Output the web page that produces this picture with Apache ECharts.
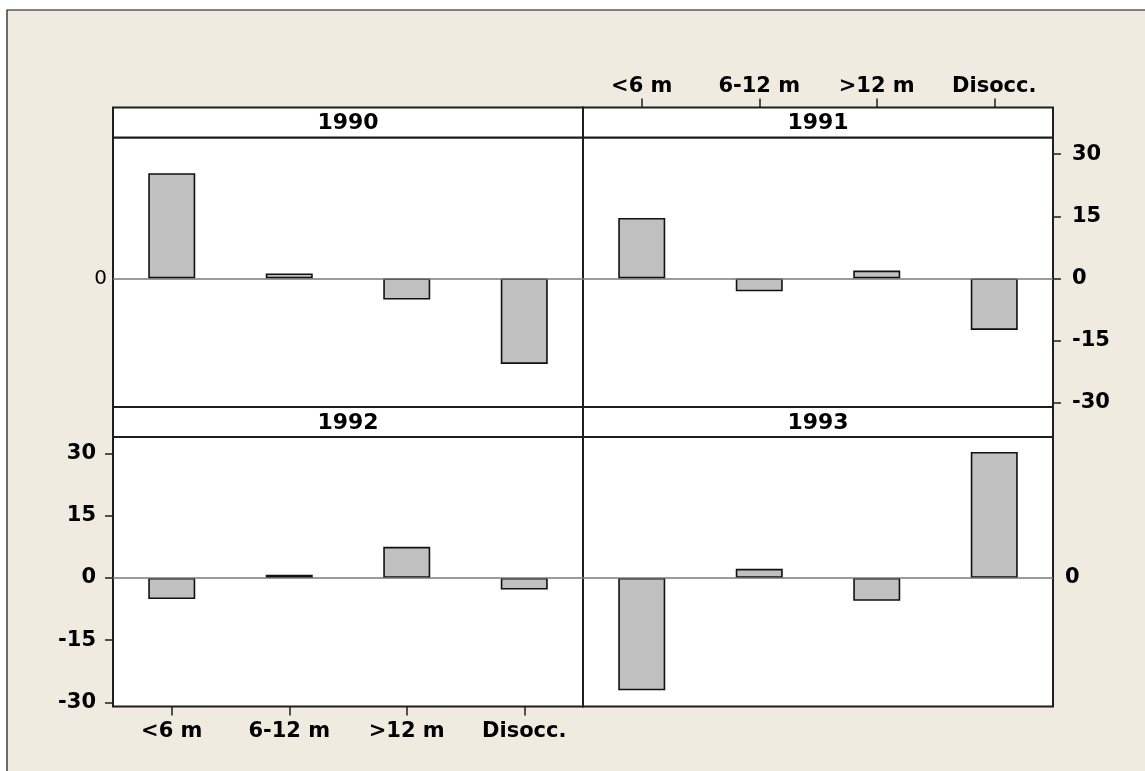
<!DOCTYPE html>
<html><head><meta charset="utf-8">
<script src="https://cdn.jsdelivr.net/npm/echarts@6/dist/echarts.min.js"></script>
<style>html,body{margin:0;padding:0;background:#fff}#c{width:1145px;height:771px}</style>
</head><body><div id="c"></div>
<script>
// ---- data ----
const categories = ['<6 m', '6-12 m', '>12 m', 'Disocc.'];
const years = ['1990', '1991', '1992', '1993'];
const v1990 = [25.4, 1.2, -5.1, -20.6];
const v1991 = [14.6, -3.1, 1.9, -12.4];
const v1992 = [-5.1, 0.8, 7.5, -2.8];
const v1993 = [-27.1, 2.2, -5.5, 30.4];
const yTicks = [-30, -15, 0, 15, 30];
const refTicks = [0];
const yMin = -31, yMax = 34;

// ---- layout ----
const L = 113, M = 583, R = 1053, T = 107.5, STRIP = 30, B = 706.5;
const PW = M - L;
const PH = (B - T - 2 * STRIP) / 2;
const FONT = 'DejaVu Sans';
const values = [v1990, v1991, v1992, v1993];

const panels = years.map((y, i) => {
  const col = i % 2, row = Math.floor(i / 2);
  const left = col ? M : L;
  const stripTop = T + row * (STRIP + PH);
  return { left, stripTop, top: stripTop + STRIP };
});

const grids = panels.map(p => ({
  left: p.left, top: p.top, width: PW, height: PH,
  show: true, backgroundColor: '#fff', borderColor: '#1e1e1e', borderWidth: 2
}));

const labelBold = { color: '#000', fontFamily: FONT, fontWeight: 'bold', fontSize: 21 };

const xAxes = panels.map((p, i) => {
  const shown = (i === 1 || i === 2);
  return {
    type: 'category', gridIndex: i, data: categories, boundaryGap: true,
    position: i === 1 ? 'top' : 'bottom',
    offset: i === 1 ? STRIP : 0,
    axisLine: { show: false, onZero: false },
    axisTick: { show: shown, alignWithLabel: true, length: 9, lineStyle: { color: '#1e1e1e', width: 1.5 } },
    axisLabel: Object.assign({ show: shown, margin: i === 1 ? 10 : 15 }, labelBold),
    splitLine: { show: false }
  };
});

const yAxes = panels.map((p, i) => {
  const base = {
    type: 'value', gridIndex: i, min: yMin, max: yMax,
    position: (i % 2) ? 'right' : 'left',
    axisLine: { show: false, onZero: false }, splitLine: { show: false }
  };
  if (i === 0) {
    base.axisTick = { show: false };
    base.axisLabel = { customValues: refTicks, margin: 6, color: '#000', fontFamily: FONT, fontWeight: 'normal', fontSize: 20 };
  } else if (i === 3) {
    base.axisTick = { show: false };
    base.axisLabel = Object.assign({ customValues: refTicks, margin: 12 }, labelBold);
  } else {
    base.axisTick = { show: true, customValues: yTicks, length: 8, lineStyle: { color: '#1e1e1e', width: 1.5 } };
    base.axisLabel = Object.assign({ customValues: yTicks, margin: i === 1 ? 19 : 17 }, labelBold);
  }
  return base;
});

const series = values.map((vals, i) => ({
  type: 'bar', xAxisIndex: i, yAxisIndex: i, data: vals, barWidth: '40%',
  itemStyle: { color: '#c0c0c0', borderColor: '#111', borderWidth: 1.6 },
  markLine: {
    silent: true, symbol: 'none', label: { show: false },
    lineStyle: { color: '#7a7a7a', width: 1.5, type: 'solid' },
    data: [{ yAxis: 0 }]
  },
  z: 3
}));

const graphics = [{
  type: 'rect', z: -100, shape: { x: 7, y: 10, width: 1300, height: 900 },
  style: { fill: '#EFEBE1', stroke: '#111', lineWidth: 1.2 }
}];
panels.forEach((p, i) => {
  graphics.push({
    type: 'rect', z: 50, shape: { x: p.left, y: p.stripTop, width: PW, height: STRIP },
    style: { fill: '#fff', stroke: '#1e1e1e', lineWidth: 2 }
  });
  graphics.push({
    type: 'text', z: 51, x: p.left + PW / 2, y: p.stripTop + STRIP / 2 + 1,
    style: { text: years[i], fill: '#000', font: 'bold 22px "' + FONT + '"', textAlign: 'center', textVerticalAlign: 'middle' }
  });
});

const chart = echarts.init(document.getElementById('c'), null, { renderer: 'canvas' });
chart.setOption({
  animation: false,
  backgroundColor: '#fff',
  grid: grids,
  xAxis: xAxes,
  yAxis: yAxes,
  series: series,
  graphic: { elements: graphics }
});
</script>
</body></html>
